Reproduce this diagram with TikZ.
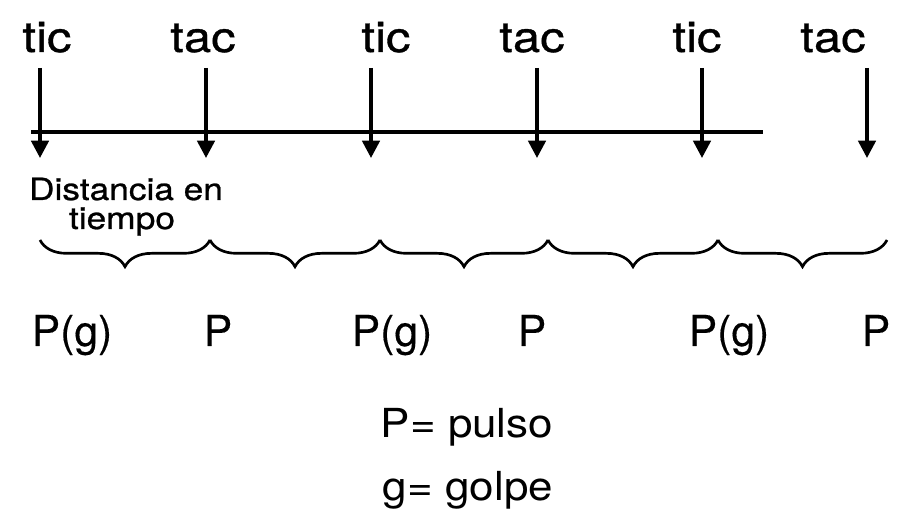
\documentclass[tikz,border=0pt]{standalone}
\usepackage{fontspec}
\setmainfont{TeX Gyre Heros}
\newfontfamily\widefont[FakeStretch=1.15,FakeBold=0.8]{TeX Gyre Heros}
\newfontfamily\plfont[FakeBold=0.3]{TeX Gyre Heros}
\newfontfamily\legfont[FakeStretch=1.1]{TeX Gyre Heros}
\usetikzlibrary{arrows.meta,decorations.pathreplacing}
\tikzset{
  beatarrow/.style={line width=2.7pt,-{Triangle[length=13pt,width=13pt]}},
  axisline/.style={line width=2.7pt},
  ticlabel/.style={anchor=base,inner sep=0pt,font=\widefont\fontsize{32}{32}\selectfont},
  distlabel/.style={anchor=base,inner sep=0pt,font=\widefont\fontsize{23}{23}\selectfont},
  plabel/.style={anchor=base,inner sep=0pt,font=\plfont\fontsize{32}{32}\selectfont},
  legend/.style={anchor=base,inner sep=0pt,font=\legfont\fontsize{30}{30}\selectfont},
  bracepath/.style={line width=2pt,decorate,decoration={brace,mirror,amplitude=20pt}},
}
\begin{document}
\begin{tikzpicture}[x=0.75pt,y=-0.75pt]
\useasboundingbox (0,0) rectangle (900,527);

% labels
\node[ticlabel] (l1) at (47,52) {tic};
\node[ticlabel] (l2) at (203,52) {tac};
\node[ticlabel] (l3) at (386,52) {tic};
\node[ticlabel] (l4) at (532,52) {tac};
\node[ticlabel] (l5) at (697,52) {tic};
\node[ticlabel] (l6) at (833,52) {tac};

% arrow endpoints
\foreach \i/\x in {1/40,2/206,3/371,4/537,5/702,6/867}{
  \coordinate (s\i) at (\x,68);
  \coordinate (e\i) at (\x,158);
}
\coordinate (L0) at (31,132);
\coordinate (L1) at (763,132);
\draw[axisline] (L0) -- (L1);
\foreach \i in {1,...,6}{
  \draw[beatarrow] (s\i) -- (e\i);
}

% distance label
\node[distlabel] (dist1) at (126,200) {Distancia en};
\node[distlabel] (dist2) at (122,229) {tiempo};

% braces
\foreach \i/\x in {0/40,1/210,2/380,3/548,4/718,5/887}{
  \coordinate (b\i) at (\x,240);
}
\foreach \i [evaluate=\i as \j using int(\i+1)] in {0,...,4}{
  \draw[bracepath] (b\i) -- (b\j);
}

% pulse labels
\node[plabel] (p1) at (72,346) {P(g)};
\node[plabel] (p2) at (218,346) {P};
\node[plabel] (p3) at (392,346) {P(g)};
\node[plabel] (p4) at (532,346) {P};
\node[plabel] (p5) at (729,346) {P(g)};
\node[plabel] (p6) at (876,346) {P};

% legend
\node[legend] (leg1) at (467,437) {P= pulso};
\node[legend] (leg2) at (468,500) {g= golpe};
\end{tikzpicture}
\end{document}
